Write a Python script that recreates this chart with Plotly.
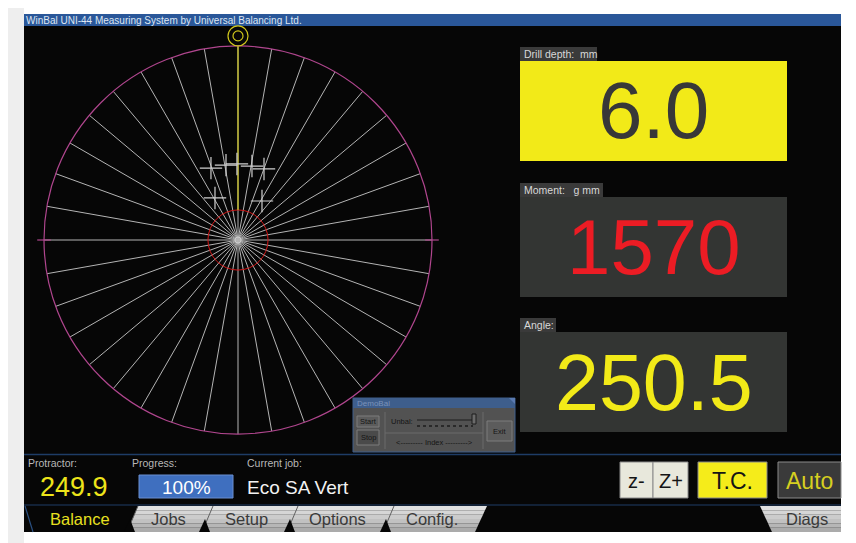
import plotly.graph_objects as go

# ---------------- data ----------------
TITLE = "WinBal UNI-44 Measuring System by Universal Balancing Ltd."
READOUT_LABELS = ["Drill depth:\u00a0\u00a0mm", "Moment:\u00a0\u00a0\u00a0g mm", "Angle:"]
READOUT_VALUES = ["6.0", "1570", "250.5"]
PROTRACTOR_LABEL = "Protractor:"
PROTRACTOR_VALUE = "249.9"
PROGRESS_LABEL = "Progress:"
PROGRESS_VALUE = "100%"
JOB_LABEL = "Current job:"
JOB_VALUE = "Eco SA Vert"
TAB_LABELS = ["Balance", "Jobs", "Setup", "Options", "Config.", "Diags"]
BUTTON_LABELS = ["z-", "Z+", "T.C.", "Auto"]
DIALOG_TITLE = "DemoBal"
DIALOG_TEXTS = ["Start", "Stop", "Unbal:", "<--------- Index --------->", "Exit"]

# measured points on the polar display (radius fraction, angle deg clockwise from top)
CROSS_R = [0.396, 0.391, 0.392, 0.388, 0.390, 0.247, 0.236]
CROSS_THETA = [339.4, 350.9, 359.2, 10.7, 20.1, 331.3, 31.6]
SPOKE_STEP = 10
RED_RING_R = 0.155
TARGET_R = 1.052
MARK_THETA = [90, 270]

# ---------------- helpers ----------------
W, H = 856, 543
OFF = 8  # page body margin
FW, FH = W - OFF, H - OFF
FONT = "Liberation Sans, Arial, sans-serif"
CX, CY, RAD = 238, 240, 194  # polar display centre / radius (pixels)


def px(x):
    return (x - OFF) / FW


def py(y):
    return 1 - (y - OFF) / FH


shapes = []
annotations = []


def rect(x0, y0, x1, y1, fill, line=None, lw=1, layer="below"):
    shapes.append(dict(type="rect", xref="paper", yref="paper",
                       x0=px(x0), x1=px(x1), y0=py(y1), y1=py(y0),
                       fillcolor=fill,
                       line=dict(color=line or fill, width=lw if line else 0),
                       layer=layer))


def circ(x, y, r, color, lw=1.2):
    shapes.append(dict(type="circle", xref="paper", yref="paper",
                       x0=px(x - r), x1=px(x + r), y0=py(y + r), y1=py(y - r),
                       line=dict(color=color, width=lw), layer="above"))


def seg(x0, y0, x1, y1, color, lw=1, layer="below", dash=None):
    d = dict(color=color, width=lw)
    if dash:
        d["dash"] = dash
    shapes.append(dict(type="line", xref="paper", yref="paper",
                       x0=px(x0), x1=px(x1), y0=py(y0), y1=py(y1),
                       line=d, layer=layer))


def poly(pts, fill, line=None, layer="below"):
    path = "M " + " L ".join(f"{px(x):.5f},{py(y):.5f}" for x, y in pts) + " Z"
    shapes.append(dict(type="path", xref="paper", yref="paper", path=path,
                       fillcolor=fill,
                       line=dict(color=line or fill, width=1 if line else 0),
                       layer=layer))


def text(x, y, s, size, color, xanchor="left", family=FONT):
    annotations.append(dict(x=px(x), y=py(y), xref="paper", yref="paper",
                            text=s, showarrow=False, xanchor=xanchor,
                            yanchor="middle",
                            font=dict(size=size, color=color, family=family)))


# ---------------- page & window ----------------
rect(0, 0, 24, 543, "#eeeeee")
seg(854, 0, 854, 543, "#d0d0d0")
rect(24, 14, 841, 26, "#2a5799")
rect(24, 26, 841, 532, "#060606")
text(24, 20, TITLE, 10, "#dde6f2")

# readout panels
LBL_BOX = [(520, 47, 597, 61), (520, 183, 603, 197), (520, 318, 556, 332)]
VAL_BOX = [(520, 61, 787, 161), (520, 197, 787, 297), (520, 332, 787, 432)]
VAL_FILL = ["#f2ea18", "#333533", "#333533"]
VAL_COLOR = ["#383838", "#ec1c24", "#f2ea18"]
VAL_SIZE = [80, 78, 79]
for i in range(3):
    rect(*LBL_BOX[i], "#3a3a3a")
    rect(*VAL_BOX[i], VAL_FILL[i])
    text(LBL_BOX[i][0] + 2, (LBL_BOX[i][1] + LBL_BOX[i][3]) / 2, READOUT_LABELS[i], 10.5, "#d8d8d8")
    text((VAL_BOX[i][0] + VAL_BOX[i][2]) / 2, (VAL_BOX[i][1] + VAL_BOX[i][3]) / 2,
         READOUT_VALUES[i], VAL_SIZE[i], VAL_COLOR[i], xanchor="center")

# bottom status area
seg(24, 454.5, 841, 454.5, "#1e3c66", 1.5)
text(26, 463, PROTRACTOR_LABEL, 10.5, "#b8b8b8")
text(74, 487, PROTRACTOR_VALUE, 27, "#ede41a", xanchor="center")
text(130, 463, PROGRESS_LABEL, 10.5, "#b8b8b8")
rect(139, 475, 233, 498, "#3f6fbf", "#6a8fd0")
text(186, 487, PROGRESS_VALUE, 19, "#ffffff", xanchor="center")
text(245, 463, JOB_LABEL, 10.5, "#b8b8b8")
text(245, 487, JOB_VALUE, 19, "#f2f2f2")

# buttons
BTN = [(620, 462, 653, 498), (653, 462, 688, 498), (698, 462, 767, 498), (778, 462, 841, 498)]
BTN_FILL = ["#e8e8dc", "#e8e8dc", "#f5ec1a", "#3a3a3a"]
BTN_TXT = ["#151515", "#151515", "#151515", "#d6cf20"]
BTN_SIZE = [20, 20, 23, 23]
for i in range(4):
    rect(*BTN[i], BTN_FILL[i], "#8a8a8a")
    text((BTN[i][0] + BTN[i][2]) / 2, 481, BUTTON_LABELS[i], BTN_SIZE[i], BTN_TXT[i], xanchor="center")

# tabs
seg(24, 505, 841, 505, "#1e3c66", 1)
SLANT = 11


def tab_band(xl_bot, xr_bot, slant_l, slant_r, colors):
    n = len(colors)
    for k, c in enumerate(colors):
        ya = 506 + 26 * k / n
        yb = 506 + 26 * (k + 1) / n
        fa = (532 - ya) / 26
        fb = (532 - yb) / 26
        poly([(xl_bot + slant_l * fa, ya), (xr_bot + slant_r * fa, ya),
              (xr_bot + slant_r * fb, yb), (xl_bot + slant_l * fb, yb)], c)


GRAD = ["#e0e0e0", "#d6d6d6", "#cccccc", "#c1c1c1", "#b6b6b6", "#ababab"]
tab_band(127, 475, SLANT, 12, GRAD)
tab_band(772, 841, -12, 0, GRAD)
for sb in [127, 202, 287, 383]:
    seg(sb, 532, sb + SLANT, 506, "#606060", 1)
    poly([(sb - 3, 532), (sb + 3, 519), (sb + 8, 532)], "#060606")
seg(25, 506, 33, 532, "#2a4f80", 1.2)
TAB_X = [80, 168, 247, 337, 432, 807]
for i, lab in enumerate(TAB_LABELS):
    text(TAB_X[i], 519, lab, 16.5, "#e8e020" if i == 0 else "#3a3a3a", xanchor="center")

# target icon at 0 deg and magenta side marks (outside the radial range)
YEL = "#cfc61c"
MAG = "#b0468e"
ty = CY - RAD * TARGET_R
circ(CX, ty, 10, YEL)
circ(CX, ty, 5, YEL)
seg(CX - RAD * 1.035, CY, CX - RAD * 0.965, CY, MAG, 1.2, layer="above")
seg(CX + RAD * 0.965, CY, CX + RAD * 1.035, CY, MAG, 1.2, layer="above")

# DemoBal dialog (above the polar display)
rect(353, 398, 515, 452, "#525252", "#3e5e8c", layer="above")
rect(353, 398, 515, 408, "#3e5e8c", layer="above")
poly([(509, 398), (515, 398), (515, 404)], "#5a7ab0", layer="above")
text(355, 403.5, DIALOG_TITLE, 8, "#7b93ba")
rect(357, 416, 379, 427, "#5c5c5c", "#7c7c7c", layer="above")
rect(357, 430, 379, 445, "#4a4a4a", "#7c7c7c", layer="above")
seg(385, 412, 385, 449, "#6a6a6a", layer="above")
seg(483, 412, 483, 449, "#6a6a6a", layer="above")
seg(385, 433, 483, 433, "#6a6a6a", layer="above")
seg(417, 420, 475, 420, "#1c1c1c", layer="above")
seg(417, 426, 473, 426, "#1c1c1c", 1.3, layer="above", dash="dot")
rect(472, 414, 476, 424, "#6a6a6a", "#1c1c1c", layer="above")
rect(487, 421, 512, 441, "#5c5c5c", "#7c7c7c", layer="above")
text(368, 421.5, DIALOG_TEXTS[0], 7.5, "#151515", xanchor="center")
text(368, 437.5, DIALOG_TEXTS[1], 7.5, "#151515", xanchor="center")
text(389, 421.5, DIALOG_TEXTS[2], 7.5, "#151515")
text(434, 442, DIALOG_TEXTS[3], 7.5, "#151515", xanchor="center")
text(499.5, 431, DIALOG_TEXTS[4], 7.5, "#151515", xanchor="center")

# ---------------- polar display ----------------
fig = go.Figure()
# yellow reference line to 0 deg
fig.add_trace(go.Scatterpolar(r=[RED_RING_R, 1.0], theta=[0, 0], mode="lines",
                              line=dict(color=YEL, width=1.2), hoverinfo="skip", showlegend=False))
# centre dot
fig.add_trace(go.Scatterpolar(r=[0], theta=[0], mode="markers",
                              marker=dict(symbol="circle-open", size=6, color="#cccccc", line=dict(width=1)),
                              hoverinfo="skip", showlegend=False))
# measurement crosses
fig.add_trace(go.Scatterpolar(r=CROSS_R, theta=CROSS_THETA, mode="markers",
                              marker=dict(symbol="cross-thin", size=16, color="#d0d0d0",
                                          line=dict(width=1.2, color="#d0d0d0")),
                              hoverinfo="skip", showlegend=False))

fig.update_layout(
    width=FW, height=FH, margin=dict(l=0, r=0, t=0, b=0),
    paper_bgcolor="#ffffff", plot_bgcolor="#ffffff",
    showlegend=False,
    shapes=shapes, annotations=annotations,
    polar=dict(
        domain=dict(x=[px(CX - RAD), px(CX + RAD)], y=[py(CY + RAD), py(CY - RAD)]),
        bgcolor="#060606",
        angularaxis=dict(rotation=90, direction="clockwise", tickmode="linear", tick0=0, dtick=SPOKE_STEP,
                         showgrid=True, gridcolor="#b4b4b4", gridwidth=1,
                         showline=True, linecolor=MAG, linewidth=1.2,
                         showticklabels=False, ticks=""),
        radialaxis=dict(range=[0, 1], tickmode="array", tickvals=[RED_RING_R],
                        showgrid=True, gridcolor="#d01818", gridwidth=1.2,
                        showline=False, showticklabels=False, ticks=""),
    ),
)

fig.write_html("out.html")
